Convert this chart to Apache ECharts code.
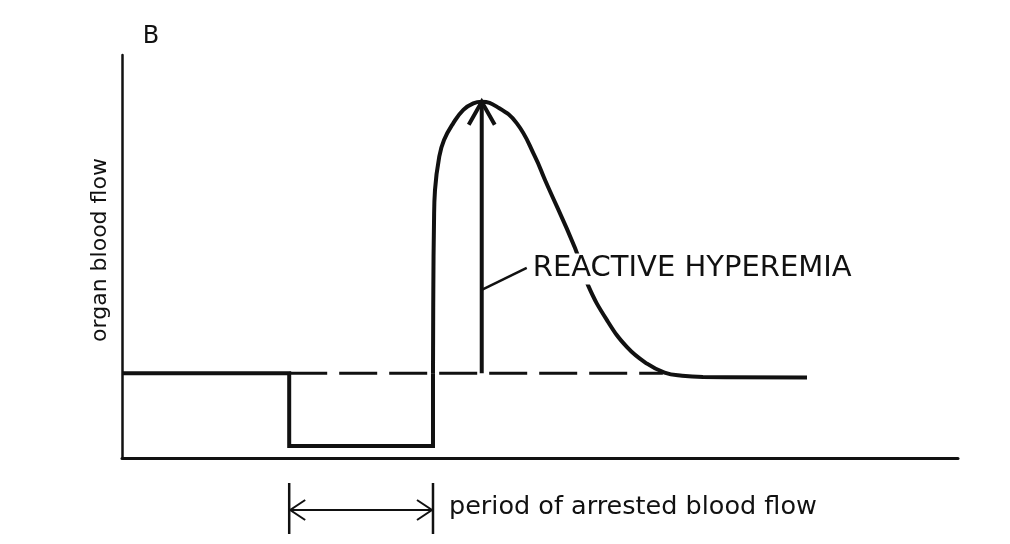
<!DOCTYPE html>
<html><head><meta charset="utf-8">
<script src="https://cdn.jsdelivr.net/npm/echarts@6/dist/echarts.min.js"></script>
<style>html,body{margin:0;padding:0;background:#fff}#c{width:1010px;height:544px}</style>
</head><body><div id="c"></div>
<script>
// ---- data (arbitrary units: time on x, organ blood flow on y) ----
const restFlow = 21;
const occludedFlow = 3;
const occlusionStart = 20;
const occlusionEnd = 37.2;
const stepSegment = [[0, restFlow], [occlusionStart, restFlow], [occlusionStart, occludedFlow], [occlusionEnd, occludedFlow], [occlusionEnd, restFlow]];
const hyperemiaCurve = [[37.2, 21], [37.24, 41.7], [37.32, 58.3], [37.44, 66.5], [37.95, 74.8], [38.52, 78.9], [39.63, 83.1], [40.83, 86.4], [42.02, 88.0], [43.03, 88.4], [44.82, 87.2], [47.21, 83.1], [49.4, 74.8], [50.6, 69.0], [54.19, 52.1], [55.74, 42.9], [58.01, 34.2], [60.41, 27.5], [62.8, 23.4], [64.9, 21.2], [67.0, 20.4], [69.5, 20.1], [81.94, 20.0]];
const peak = [43.03, 88.4];
const dashedEndX = 64.7;
const yAxisTitle = 'organ blood flow';
const panelLabel = 'B';
const peakLabel = 'REACTIVE HYPEREMIA';
const periodLabel = 'period of arrested blood flow';

const INK = '#111';
const FONT = '"DejaVu Sans", sans-serif';

const chart = echarts.init(document.getElementById('c'), null, {renderer: 'canvas'});
chart.setOption({
  animation: false,
  backgroundColor: '#fff',
  grid: {left: 122, right: 52, top: 55, bottom: 86},
  xAxis: {type: 'value', min: 0, max: 100,
    axisLine: {show: true, lineStyle: {color: INK, width: 3}},
    axisTick: {show: false}, axisLabel: {show: false}, splitLine: {show: false}},
  yAxis: {type: 'value', min: 0, max: 100,
    axisLine: {show: true, lineStyle: {color: INK, width: 2.5}},
    axisTick: {show: false}, axisLabel: {show: false}, splitLine: {show: false}},
  series: [
    {type: 'line', data: [[occlusionStart, restFlow], [dashedEndX, restFlow]], symbol: 'none', silent: true,
      lineStyle: {color: INK, width: 3, type: [38, 12]}, z: 1},
    {type: 'line', data: stepSegment, symbol: 'none', silent: true,
      lineStyle: {color: INK, width: 4, join: 'miter'}, z: 3},
    {type: 'line', data: hyperemiaCurve, symbol: 'none', silent: true, smooth: 0.45,
      lineStyle: {color: INK, width: 4}, z: 3},
    {type: 'line', data: [[peak[0], restFlow], peak], symbol: 'none', silent: true,
      lineStyle: {color: INK, width: 4}, z: 3}
  ]
});

const P = (x, y) => chart.convertToPixel({gridIndex: 0}, [x, y]);
const tip = P(peak[0], peak[1]);
const leadStart = P(peak[0], 41.7);
const leadEnd = [leadStart[0] + 45, leadStart[1] - 22];
const a = P(occlusionStart, 0);
const b = P(occlusionEnd, 0);
const axY = a[1];
const line = (pts, w) => ({type: 'polyline', z: 50, shape: {points: pts}, style: {stroke: INK, lineWidth: w, fill: null, lineJoin: 'miter'}});

chart.setOption({graphic: [
  line([[tip[0] - 13, tip[1] + 23], tip, [tip[0] + 13, tip[1] + 23]], 4),
  line([leadStart, leadEnd], 2.5),
  {type: 'text', z: 60, x: leadEnd[0] + 5, y: leadEnd[1] + 1,
    style: {text: peakLabel, fill: INK, font: '29px ' + FONT, align: 'left', verticalAlign: 'middle',
      backgroundColor: '#fff', padding: [1, 1]}},
  line([[a[0], axY + 25], [a[0], axY + 76]], 2.5),
  line([[b[0], axY + 25], [b[0], axY + 76]], 2.5),
  line([[a[0], axY + 52], [b[0], axY + 52]], 2),
  line([[a[0] + 16, axY + 42], [a[0] + 1, axY + 52], [a[0] + 16, axY + 62]], 2),
  line([[b[0] - 16, axY + 42], [b[0] - 1, axY + 52], [b[0] - 16, axY + 62]], 2),
  {type: 'text', z: 60, x: b[0] + 16, y: axY + 49,
    style: {text: periodLabel, fill: INK, font: '25.5px ' + FONT, align: 'left', verticalAlign: 'middle'}},
  {type: 'text', z: 60, x: 151, y: 37,
    style: {text: panelLabel, fill: INK, font: '24px ' + FONT, align: 'center', verticalAlign: 'middle'}},
  {type: 'text', z: 60, x: 100, y: 250, rotation: Math.PI / 2,
    style: {text: yAxisTitle, fill: INK, font: '22px ' + FONT, align: 'center', verticalAlign: 'middle'}}
]});
</script></body></html>
